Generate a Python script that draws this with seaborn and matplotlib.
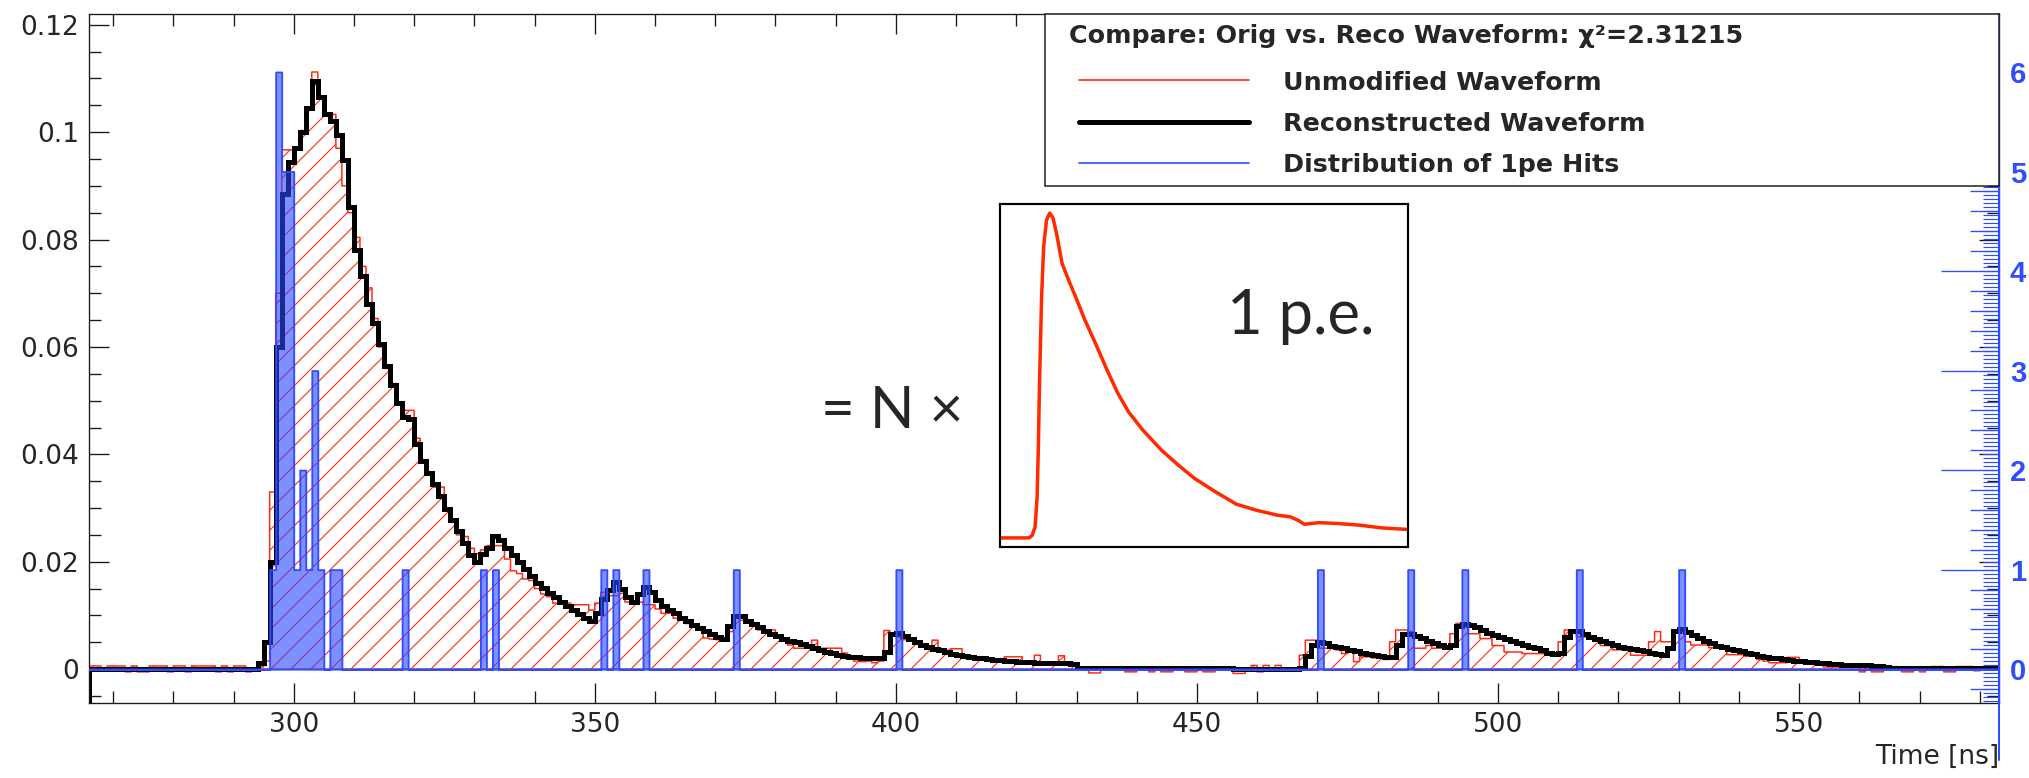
import numpy as np
import matplotlib
matplotlib.use("Agg")
import matplotlib.pyplot as plt
import seaborn as sns
from matplotlib.ticker import MultipleLocator, FuncFormatter, NullLocator
from matplotlib.lines import Line2D
from matplotlib.patches import Rectangle

# ---------------------------------------------------------------- data
T_START = 266  # left edge of the first 1 ns bin [ns]

# reconstructed waveform (N x single p.e. template), one value per 1 ns bin
reco = [
    0, 0, 0, 0, 0, 0, 0, 0, 0, 0,                                              # 266
    0, 0, 0, 0, 0, 0, 0, 0, 0, 0,                                              # 276
    0, 0, 0, 0, 0, 0, 0, 0, 0.0012, 0.0050,                                    # 286
    0.0200, 0.0600, 0.0885, 0.0945, 0.0970, 0.1000, 0.1045, 0.1095, 0.1066, 0.1033,  # 296
    0.1020, 0.0995, 0.0948, 0.0860, 0.0780, 0.0733, 0.0680, 0.0645, 0.0605, 0.0565,  # 306
    0.0530, 0.0495, 0.0470, 0.0465, 0.0420, 0.0387, 0.0365, 0.0345, 0.0323, 0.0299,  # 316
    0.0277, 0.0257, 0.0235, 0.0212, 0.0200, 0.0215, 0.0225, 0.0248, 0.0240, 0.0225,  # 326
    0.0212, 0.0200, 0.0187, 0.0173, 0.0161, 0.0152, 0.0142, 0.0134, 0.0126, 0.0117,  # 336
    0.0110, 0.0103, 0.0096, 0.0089, 0.0104, 0.0130, 0.0148, 0.0163, 0.0150, 0.0135,  # 346
    0.0125, 0.0140, 0.0153, 0.0144, 0.0129, 0.0118, 0.0111, 0.0104, 0.0096, 0.0089,  # 356
    0.0083, 0.0077, 0.0071, 0.0065, 0.0060, 0.0056, 0.0080, 0.0099, 0.0099, 0.0090,  # 366
    0.0084, 0.0078, 0.0072, 0.0066, 0.0061, 0.0057, 0.0053, 0.0050, 0.0046, 0.0043,  # 376
    0.0039, 0.0035, 0.0032, 0.0030, 0.0027, 0.0024, 0.0023, 0.0022, 0.0021, 0.0021,  # 386
    0.0021, 0.0021, 0.0032, 0.0066, 0.0068, 0.0062, 0.0056, 0.0050, 0.0045, 0.0041,  # 396
    0.0038, 0.0035, 0.0032, 0.0029, 0.0027, 0.0025, 0.0023, 0.0021, 0.0020, 0.0019,  # 406
    0.0018, 0.0017, 0.0016, 0.0015, 0.0014, 0.0014, 0.0013, 0.0012, 0.0012, 0.0012,  # 416
    0.0011, 0.0011, 0.0011, 0.0010, 0.0003, 0.0003, 0.0003, 0.0003, 0.0003, 0.0003,  # 426
    0.0003, 0.0003, 0.0003, 0.0003, 0.0003, 0.0003, 0.0003, 0.0003, 0.0003, 0.0003,  # 436
    0.0003, 0.0003, 0.0003, 0.0003, 0.0003, 0.0003, 0.0003, 0.0003, 0.0003, 0.0003,  # 446
    0.0001, 0.0001, 0.0001, 0.0001, 0.0001, 0.0001, 0.0001, 0.0001, 0.0001, 0.0001,  # 456
    0.0001, 0.0003, 0.0025, 0.0045, 0.0051, 0.0048, 0.0044, 0.0041, 0.0039, 0.0036,  # 466
    0.0033, 0.0031, 0.0028, 0.0026, 0.0024, 0.0022, 0.0022, 0.0045, 0.0066, 0.0065,  # 476
    0.0062, 0.0058, 0.0053, 0.0049, 0.0045, 0.0042, 0.0045, 0.0080, 0.0085, 0.0082,  # 486
    0.0078, 0.0073, 0.0068, 0.0064, 0.0060, 0.0056, 0.0052, 0.0049, 0.0045, 0.0042,  # 496
    0.0039, 0.0035, 0.0031, 0.0028, 0.0030, 0.0060, 0.0072, 0.0071, 0.0066, 0.0060,  # 506
    0.0056, 0.0052, 0.0048, 0.0045, 0.0042, 0.0039, 0.0037, 0.0035, 0.0033, 0.0031,  # 516
    0.0028, 0.0026, 0.0040, 0.0072, 0.0074, 0.0069, 0.0063, 0.0058, 0.0053, 0.0048,  # 526
    0.0044, 0.0041, 0.0038, 0.0035, 0.0033, 0.0030, 0.0028, 0.0025, 0.0023, 0.0021,  # 536
    0.0020, 0.0019, 0.0017, 0.0016, 0.0015, 0.0014, 0.0013, 0.0012, 0.0011, 0.0010,  # 546
    0.0009, 0.0008, 0.0008, 0.0007, 0.0007, 0.0007, 0.0006, 0.0005, 0.0004, 0.0003,  # 556
    0.0003, 0.0003, 0.0003, 0.0003, 0.0003, 0.0003, 0.0003, 0.0003, 0.0003, 0.0003,  # 566
    0.0003, 0.0003, 0.0003, 0.0003, 0.0003, 0.0003, 0.0003,                    # 576
]

# unmodified (recorded) waveform, same binning
orig = [
    0.0006, 0.0006, -0.0003, 0.0006, 0.0006, 0.0006, -0.0005, 0.0006, -0.0005, -0.0005,  # 266
    0.0006, 0.0006, 0.0006, -0.0005, 0.0006, 0.0006, -0.0005, 0.0006, 0.0006, 0.0006,    # 276
    0.0006, -0.0005, 0.0006, -0.0005, 0.0006, 0.0006, -0.0005, -0.0003, 0.0004, 0.0015,  # 286
    0.0330, 0.0700, 0.0967, 0.0967, 0.0967, 0.1003, 0.1047, 0.1112, 0.1066, 0.1033,  # 296
    0.1033, 0.0970, 0.0900, 0.0850, 0.0804, 0.0750, 0.0710, 0.0653, 0.0600, 0.0560,  # 306
    0.0532, 0.0495, 0.0482, 0.0482, 0.0430, 0.0390, 0.0365, 0.0339, 0.0339, 0.0300,  # 316
    0.0275, 0.0250, 0.0247, 0.0225, 0.0215, 0.0222, 0.0230, 0.0230, 0.0230, 0.0205,  # 326
    0.0183, 0.0178, 0.0168, 0.0165, 0.0150, 0.0140, 0.0135, 0.0123, 0.0123, 0.0123,  # 336
    0.0120, 0.0120, 0.0120, 0.0110, 0.0123, 0.0143, 0.0137, 0.0137, 0.0141, 0.0125,  # 346
    0.0125, 0.0125, 0.0120, 0.0120, 0.0112, 0.0104, 0.0104, 0.0095, 0.0091, 0.0085,  # 356
    0.0080, 0.0073, 0.0058, 0.0056, 0.0055, 0.0055, 0.0070, 0.0097, 0.0091, 0.0091,  # 366
    0.0082, 0.0073, 0.0073, 0.0073, 0.0060, 0.0052, 0.0045, 0.0039, 0.0039, 0.0039,  # 376
    0.0054, 0.0039, 0.0039, 0.0039, 0.0039, 0.0030, 0.0020, 0.0015, 0.0014, 0.0015,  # 386
    0.0012, 0.0015, 0.0072, 0.0066, 0.0060, 0.0055, 0.0052, 0.0048, 0.0045, 0.0040,  # 396
    0.0054, 0.0035, 0.0035, 0.0038, 0.0038, 0.0025, 0.0023, 0.0022, 0.0020, 0.0018,  # 406
    0.0015, 0.0014, 0.0023, 0.0023, 0.0023, 0.0010, 0.0010, 0.0026, 0.0008, 0.0008,  # 416
    0.0008, 0.0025, 0.0009, 0.0009, 0.0003, 0.0003, -0.0007, -0.0007, 0.0003, 0.0003,  # 426
    0.0003, 0.0003, -0.0005, -0.0005, 0.0003, 0.0003, -0.0005, 0.0003, -0.0005, -0.0005,  # 436
    0.0003, 0.0003, -0.0005, -0.0005, 0.0003, -0.0005, -0.0005, 0.0003, 0.0003, 0.0003,  # 446
    -0.0008, -0.0008, 0.0000, 0.0007, -0.0005, 0.0007, 0.0000, 0.0007, 0.0000, 0.0000,  # 456
    0.0000, 0.0026, 0.0054, 0.0054, 0.0039, 0.0039, 0.0039, 0.0036, 0.0029, 0.0036,  # 466
    0.0014, 0.0023, 0.0023, 0.0021, 0.0021, 0.0018, 0.0051, 0.0073, 0.0073, 0.0070,  # 476
    0.0039, 0.0039, 0.0044, 0.0039, 0.0039, 0.0039, 0.0066, 0.0085, 0.0085, 0.0066,  # 486
    0.0066, 0.0057, 0.0057, 0.0044, 0.0044, 0.0032, 0.0032, 0.0032, 0.0029, 0.0029,  # 496
    0.0029, 0.0029, 0.0029, 0.0029, 0.0051, 0.0073, 0.0073, 0.0060, 0.0060, 0.0057,  # 506
    0.0057, 0.0044, 0.0044, 0.0036, 0.0036, 0.0036, 0.0026, 0.0026, 0.0026, 0.0051,  # 516
    0.0070, 0.0051, 0.0051, 0.0068, 0.0068, 0.0051, 0.0045, 0.0045, 0.0045, 0.0040,  # 526
    0.0040, 0.0040, 0.0027, 0.0027, 0.0027, 0.0024, 0.0024, 0.0018, 0.0015, 0.0012,  # 536
    0.0012, 0.0012, 0.0022, 0.0022, 0.0011, 0.0011, 0.0011, 0.0008, 0.0004, 0.0004,  # 546
    0.0004, 0.0004, 0.0004, 0.0004, -0.0005, 0.0004, -0.0005, -0.0005, 0.0004, 0.0004,  # 556
    0.0004, -0.0005, -0.0005, 0.0004, -0.0005, 0.0004, 0.0005, 0.0005, -0.0005, -0.0005,  # 566
    0.0005, 0.0005, 0.0005, -0.0003, 0.0004, 0.0004, 0.0004,                    # 576
]

# distribution of single photo-electron hits: bin start [ns] and number of hits
hit_times = [296, 297, 298, 299, 300, 301, 302, 303, 304, 306, 307, 318,
             331, 333, 351, 353, 358, 373, 400, 470, 485, 494, 513, 530]
hit_counts = [1, 6, 5, 5, 1, 2, 1, 3, 1, 1, 1, 1,
              1, 1, 1, 1, 1, 1, 1, 1, 1, 1, 1, 1]
hit_axis_ticks = [0, 1, 2, 3, 4, 5, 6]

# single p.e. pulse template (inset), arbitrary time and amplitude units
tmpl_t = [0, 7.1, 7.9, 8.6, 9.1, 9.4, 9.7, 10.2, 10.7, 11.4,
          12.2, 13.0, 14.0, 15.2, 16.8, 18.5, 20.8, 23.4, 26.4, 28.9,
          31.5, 35.0, 39.6, 43.7, 47.7, 52.8, 57.9, 62.9, 68.0, 71.1,
          73.1, 74.6, 78.2, 83.2, 88.3, 93.4, 100]
tmpl_amp = [0, 0, 0.008, 0.034, 0.126, 0.28, 0.486, 0.743, 0.897, 0.979,
            1.0, 0.985, 0.928, 0.846, 0.794, 0.743, 0.671, 0.599, 0.512, 0.445,
            0.388, 0.332, 0.270, 0.224, 0.183, 0.142, 0.104, 0.085, 0.070, 0.065,
            0.054, 0.042, 0.047, 0.044, 0.039, 0.031, 0.026]

legend_title = "Compare: Orig vs. Reco Waveform: \u03c7\u00b2=2.31215"
legend_labels = ["Unmodified Waveform", "Reconstructed Waveform", "Distribution of 1pe Hits"]

# ---------------------------------------------------------------- style
RED = "#ff2a12"
BLUE = "#2f4cff"
FRAME = "#1a1a1a"

sns.set_theme(style="white")
plt.rcParams["font.family"] = ["DejaVu Sans"]
plt.rcParams["hatch.color"] = RED
plt.rcParams["hatch.linewidth"] = 0.65

W, H, DPI = 2029, 778, 120
fig = plt.figure(figsize=(W / DPI, H / DPI), dpi=DPI)
fig.patch.set_facecolor("white")


def fx(px):
    return px / W


def fy(py):
    return 1 - py / H


reco = np.array(reco)
orig = np.array(orig)
n_bins = len(reco)
t_end = T_START + n_bins
centers = np.arange(T_START, t_end) + 0.5
hit_centers = np.array(hit_times) + 0.5
bin_kw = dict(binwidth=1, binrange=(T_START, t_end))

Y_LO, Y_HI = -0.0063, 0.1220
X_HI = 583.2
hit_scale = orig.max() / max(hit_counts)   # hits drawn on the scale of the waveform

ax = fig.add_axes([fx(89), fy(703), fx(1999) - fx(89), fy(14) - fy(703)])

# unmodified waveform: thin red outline with diagonal hatching
sns.histplot(x=centers, weights=orig, element="step", fill=True,
             color=RED, facecolor="none", hatch="//", linewidth=0.9, ax=ax, **bin_kw)
# reconstructed waveform: thick black outline
sns.histplot(x=centers, weights=reco, element="step", fill=False,
             color="black", linewidth=3.0, ax=ax, **bin_kw)
ax.lines[-1].set_solid_joinstyle("miter")
ax.vlines(T_START, Y_LO, reco[0], color="black", linewidth=3.0)

ax.set_xlim(T_START, X_HI)
ax.set_ylim(Y_LO, Y_HI)
ax.set_xlabel("")
ax.set_ylabel("")
ax.xaxis.set_major_locator(MultipleLocator(50))
ax.xaxis.set_minor_locator(MultipleLocator(10))
ax.yaxis.set_major_locator(MultipleLocator(0.02))
ax.yaxis.set_minor_locator(MultipleLocator(0.005))
ax.yaxis.set_major_formatter(FuncFormatter(lambda v, p: f"{round(v, 6) + 0.0:g}"))
for s in ax.spines.values():
    s.set_color(FRAME)
    s.set_linewidth(0.8)

# hits histogram on its own (right-hand) scale
ax2 = ax.twinx()
sns.histplot(x=hit_centers, weights=hit_counts, element="step", fill=True,
             color=BLUE, facecolor=(0.16, 0.27, 1.0, 0.6), linewidth=1.1, ax=ax2, **bin_kw)
ax2.set_ylim(Y_LO / hit_scale, Y_HI / hit_scale)
ax2.set_ylabel("")
ax2.set_xlim(T_START, X_HI)
for k in ("left", "top", "bottom"):
    ax2.spines[k].set_visible(False)
ax2.spines["right"].set_color(BLUE)
ax2.spines["right"].set_linewidth(1.2)
ax2.set_yticks(hit_axis_ticks)
ax2.set_yticklabels([str(v) for v in hit_axis_ticks], fontweight="bold", color=BLUE,
                    family="Liberation Sans")
ax2.yaxis.set_minor_locator(MultipleLocator(0.2))
ax2.tick_params(axis="y", which="both", direction="in", color=BLUE, width=0.8,
                labelsize=17.5, pad=6.5)
ax2.tick_params(axis="y", which="major", length=34.8)
ax2.tick_params(axis="y", which="minor", length=17.4)

# finest subdivision of the hits axis
ax3 = ax.twinx()
ax3.set_ylim(ax2.get_ylim())
ax3.set_xlim(T_START, X_HI)
for s in ax3.spines.values():
    s.set_visible(False)
ax3.yaxis.set_major_locator(NullLocator())
ax3.yaxis.set_minor_locator(MultipleLocator(0.04))
ax3.tick_params(axis="y", which="minor", direction="in", color=BLUE, width=0.7,
                length=9.6, right=True, labelright=False)

# frame ticks (all four sides, pointing inwards)
ax.tick_params(axis="both", which="both", direction="in", color=FRAME, width=0.8,
               top=True, bottom=True, left=True, right=True, labelright=False)
ax.tick_params(axis="both", which="major", length=12)
ax.tick_params(axis="both", which="minor", length=7)
ax.tick_params(axis="x", labelsize=15.8, pad=5.4)
ax.tick_params(axis="y", labelsize=15.8, pad=6)

fig.text(fx(1999), fy(763.5), "Time [ns]", ha="right", va="baseline", fontsize=15.8)
fig.add_artist(Line2D([fx(1999), fx(1999)], [fy(703), fy(760)], color=BLUE, linewidth=1.2))

# ---------------------------------------------------------------- legend box
fig.add_artist(Rectangle((fx(1045), fy(186)), fx(1999) - fx(1045), fy(14) - fy(186),
                         transform=fig.transFigure, facecolor="white",
                         edgecolor=FRAME, linewidth=0.9, zorder=5))
fig.text(fx(1069), fy(43.3), legend_title, fontsize=15.2, fontweight="bold",
         ha="left", va="baseline", zorder=7)
sample_styles = [(RED, 1.0), ("black", 3.0), (BLUE, 1.0)]
sample_y = [80, 121.7, 163.3]
text_base = [89.5, 131, 172]
for (c, lw), yy, yb, lab in zip(sample_styles, sample_y, text_base, legend_labels):
    fig.add_artist(Line2D([fx(1079), fx(1249)], [fy(yy), fy(yy)], color=c,
                          linewidth=lw, zorder=6))
    fig.text(fx(1283), fy(yb), lab, fontsize=15.2, fontweight="bold",
             ha="left", va="baseline", zorder=7)

# ---------------------------------------------------------------- single p.e. inset
axi = fig.add_axes([fx(1000), fy(547), fx(1408) - fx(1000), fy(204) - fy(547)])
sns.lineplot(x=tmpl_t, y=tmpl_amp, color="#ff2a00", linewidth=2.1, sort=False,
             estimator=None, ax=axi)
axi.set_xlim(0, 100)
axi.set_ylim(-0.028, 1.028)
axi.set_xticks([])
axi.set_yticks([])
axi.set_xlabel("")
axi.set_ylabel("")
for s in axi.spines.values():
    s.set_color("black")
    s.set_linewidth(1.3)

fig.text(fx(821), fy(428.3), "= N \u00d7", fontsize=35, family="Lato",
         ha="left", va="baseline")
fig.text(fx(1227), fy(334), "1 p.e.", fontsize=37, family="Lato",
         ha="left", va="baseline")

fig.savefig("out.png", dpi=DPI, facecolor="white")
